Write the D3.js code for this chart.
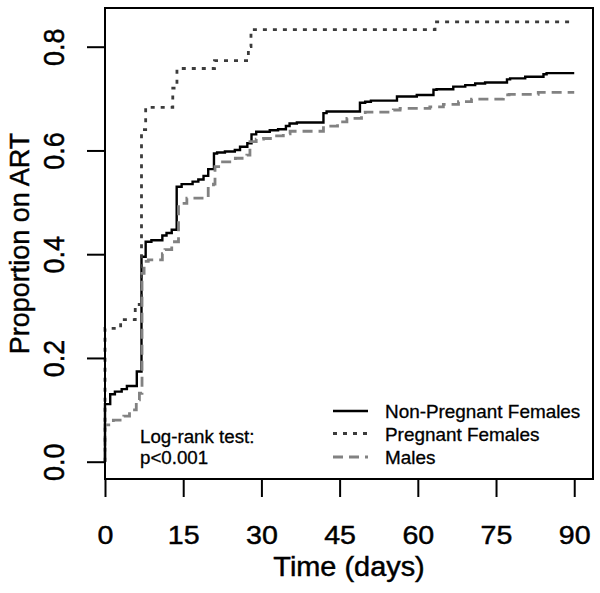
<!DOCTYPE html>
<html>
<head>
<meta charset="utf-8">
<script src="https://cdn.jsdelivr.net/npm/d3@7"></script>
<style>
  html, body { margin: 0; padding: 0; background: #fff; }
  svg { display: block; }
  text { font-family: "Liberation Sans", Arial, Helvetica, sans-serif; fill: #000; stroke: #000; stroke-width: 0.45px; }
</style>
</head>
<body>
<svg id="chart" width="600" height="593"></svg>
<script>
// ---- data (days, cumulative proportion on ART; value holds after the given day) ----
const seriesNames = ["Non-Pregnant Females", "Pregnant Females", "Males"];

const nonPregTimes  = [0, 1, 1.9, 3.2, 4.2, 6.1, 7, 7.8, 8.9, 11, 11.8, 12.8, 13.75, 14.7, 16.8, 17.9, 18.9, 19.8, 20.9, 21.5, 23, 24.9, 25.9, 27.3, 28.1, 29, 31.6, 33.2, 34.7, 35.4, 36.8, 41.9, 42.5, 48.9, 49.9, 51, 56, 59.8, 63, 63.6, 66.8, 69.1, 71, 72.9, 77.1, 77.7, 80.6, 84.1, 84.7, 90];
const nonPregValues = [0.111, 0.13, 0.135, 0.14, 0.146, 0.174, 0.395, 0.424, 0.427, 0.436, 0.441, 0.447, 0.530, 0.535, 0.54, 0.544, 0.551, 0.564, 0.594, 0.596, 0.598, 0.601, 0.607, 0.614, 0.631, 0.636, 0.639, 0.641, 0.647, 0.652, 0.654, 0.672, 0.675, 0.692, 0.694, 0.696, 0.704, 0.707, 0.717, 0.718, 0.723, 0.726, 0.729, 0.731, 0.737, 0.739, 0.742, 0.747, 0.749, 0.749];

const pregTimes  = [0, 3, 5.8, 7, 7.8, 13, 13.8, 21, 27.5, 28, 63.3, 90];
const pregValues = [0.257, 0.274, 0.303, 0.64, 0.683, 0.72, 0.758, 0.773, 0.80, 0.833, 0.848, 0.848];

const maleTimes  = [0, 1.6, 3.6, 4.7, 6, 6.6, 7.1, 7.5, 8.3, 11, 11.5, 12.8, 14.1, 15.7, 19.8, 20.8, 21.1, 21.8, 24.3, 25, 27.2, 27.8, 29, 30.4, 32.6, 34.2, 35.5, 41.9, 44.6, 46.4, 49.2, 49.9, 55.3, 56.6, 62.3, 64.9, 67.8, 70.3, 76.4, 77.5, 83.1, 90];
const maleValues = [0.071, 0.080, 0.088, 0.100, 0.119, 0.132, 0.363, 0.386, 0.389, 0.401, 0.409, 0.424, 0.498, 0.508, 0.530, 0.535, 0.569, 0.578, 0.580, 0.585, 0.591, 0.617, 0.622, 0.623, 0.628, 0.632, 0.637, 0.647, 0.655, 0.662, 0.673, 0.674, 0.678, 0.681, 0.684, 0.689, 0.694, 0.699, 0.707, 0.708, 0.712, 0.712];

const xTicks = [0, 15, 30, 45, 60, 75, 90];
const yTicks = [0.0, 0.2, 0.4, 0.6, 0.8];
const yTickLabels = ["0.0", "0.2", "0.4", "0.6", "0.8"];
const xTitle = "Time (days)";
const yTitle = "Proportion on ART";
const noteLines = ["Log-rank test:", "p<0.001"];

// ---- layout ----
const svg = d3.select("#chart");
const plotL = 105, plotR = 593, plotT = 8, plotB = 479;

const x = d3.scaleLinear().domain([0, 93.6]).range([plotL, plotR]);
const y = d3.scaleLinear().domain([0, 0.8]).range([461.7, 46.7]);

const styles = [
  { color: "#000000", width: 2.4, dash: null },
  { color: "#3c3c3c", width: 2.8, dash: "4,6" },
  { color: "#828282", width: 2.8, dash: "10,6" }
];

const series = [
  { times: nonPregTimes, values: nonPregValues },
  { times: pregTimes, values: pregValues },
  { times: maleTimes, values: maleValues }
];

const line = d3.line()
  .x(d => x(d[0]))
  .y(d => y(d[1]))
  .curve(d3.curveStepAfter);

series.forEach((s, i) => {
  const pts = [[0, 0]].concat(s.times.map((t, j) => [t, s.values[j]]));
  svg.append("path")
    .datum(pts)
    .attr("d", line)
    .attr("fill", "none")
    .attr("stroke", styles[i].color)
    .attr("stroke-width", styles[i].width)
    .attr("stroke-dasharray", styles[i].dash)
    .attr("stroke-linejoin", "miter")
    .attr("stroke-linecap", "butt");
});

// box
svg.append("rect")
  .attr("x", plotL).attr("y", plotT)
  .attr("width", plotR - plotL).attr("height", plotB - plotT)
  .attr("fill", "none").attr("stroke", "#000").attr("stroke-width", 2);

// x axis
const xAxis = svg.append("g")
  .attr("transform", `translate(0,${plotB})`)
  .call(d3.axisBottom(x).tickValues(xTicks).tickSize(18).tickSizeOuter(0).tickPadding(0).tickFormat(d3.format("d")));
xAxis.select(".domain").remove();
xAxis.selectAll(".tick line").attr("stroke", "#000").attr("stroke-width", 2);
xAxis.selectAll(".tick text")
  .attr("y", null).attr("dy", null)
  .attr("font-size", 26)
  .attr("font-family", "Liberation Sans, Arial, sans-serif")
  .attr("fill", "#000")
  .attr("transform", "translate(0,65) scale(1.1,1)");

// y axis
const yAxis = svg.append("g")
  .attr("transform", `translate(${plotL},0)`)
  .call(d3.axisLeft(y).tickValues(yTicks).tickSize(18).tickSizeOuter(0).tickFormat((d, i) => yTickLabels[i]));
yAxis.select(".domain").remove();
yAxis.selectAll(".tick line").attr("stroke", "#000").attr("stroke-width", 2);
yAxis.selectAll(".tick text")
  .attr("x", null).attr("dy", null)
  .attr("text-anchor", "middle")
  .attr("font-size", 27)
  .attr("font-family", "Liberation Sans, Arial, sans-serif")
  .attr("fill", "#000")
  .attr("transform", "translate(-41,0) scale(1.12,1) rotate(-90)");

// titles
svg.append("text")
  .attr("transform", `translate(${(plotL + plotR) / 2},576) scale(1.07,1)`)
  .attr("text-anchor", "middle")
  .attr("font-size", 27)
  .text(xTitle);

svg.append("text")
  .attr("transform", `translate(29,${(plotT + plotB) / 2}) rotate(-90)`)
  .attr("text-anchor", "middle")
  .attr("font-size", 27)
  .text(yTitle);

// legend
const legendY = [411, 433.5, 457];
const legendTextY = [418, 441, 464];
seriesNames.forEach((name, i) => {
  svg.append("line")
    .attr("x1", 333).attr("x2", 368)
    .attr("y1", legendY[i]).attr("y2", legendY[i])
    .attr("stroke", styles[i].color)
    .attr("stroke-width", styles[i].width)
    .attr("stroke-dasharray", styles[i].dash);
  svg.append("text")
    .attr("transform", `translate(385,${legendTextY[i]}) scale(1.08,1)`)
    .attr("font-size", 17.5)
    .style("stroke-width", "0.3px")
    .text(name);
});

// note
noteLines.forEach((t, i) => {
  svg.append("text")
    .attr("transform", `translate(140,${443 + i * 20.5}) scale(1.04,1)`)
    .attr("font-size", 18)
    .style("stroke-width", "0.3px")
    .text(t);
});
</script>
</body>
</html>
